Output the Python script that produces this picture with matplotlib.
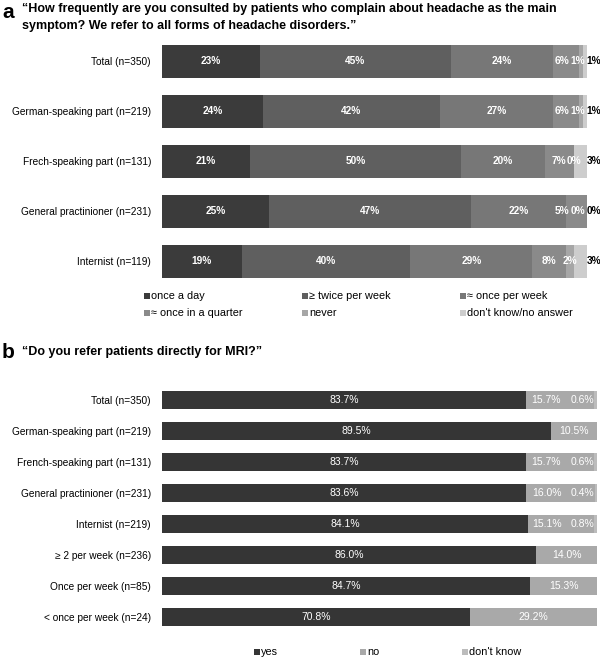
import numpy as np
import matplotlib
matplotlib.use('Agg')
import matplotlib.pyplot as plt

plt.rcParams['font.family'] = ['Liberation Sans', 'DejaVu Sans']

# Part a: how often consulted for headache (percent)
groups_a = ['Total (n=350)', 'German-speaking part (n=219)', 'Frech-speaking part (n=131)',
            'General practinioner (n=231)', 'Internist (n=119)']
series_a = ['once a day', '\u2265 twice per week', '\u2248 once per week',
            '\u2248 once in a quarter', 'never', "don't know/no answer"]
once_day = [23, 24, 21, 25, 19]
twice_week = [45, 42, 50, 47, 40]
once_week = [24, 27, 20, 22, 29]
once_quarter = [6, 6, 7, 5, 8]
never = [1, 1, 0, 0, 2]
dont_know_a = [1, 1, 3, 0, 3]
colors_a = ['#3b3b3b', '#5f5f5f', '#777777', '#8a8a8a', '#a6a6a6', '#cdcdcd']

# Part b: refer patients directly for MRI (percent)
groups_b = ['Total (n=350)', 'German-speaking part (n=219)', 'French-speaking part (n=131)',
            'General practinioner (n=231)', 'Internist (n=219)', '\u2265 2 per week (n=236)',
            'Once per week (n=85)', '< once per week (n=24)']
series_b = ['yes', 'no', "don't know"]
yes = [83.7, 89.5, 83.7, 83.6, 84.1, 86.0, 84.7, 70.8]
no = [15.7, 10.5, 15.7, 16.0, 15.1, 14.0, 15.3, 29.2]
dont_know_b = [0.6, 0.0, 0.6, 0.4, 0.8, 0.0, 0.0, 0.0]
colors_b = ['#353535', '#a9a9a9', '#bcbcbc']

W, H = 600, 659
fig = plt.figure(figsize=(W / 100, H / 100), dpi=100)


def px_axes(x0, y0, x1, y1):
    # axes placed by pixel box (top-left origin)
    return fig.add_axes([x0 / W, 1 - y1 / H, (x1 - x0) / W, (y1 - y0) / H])


# overlay for titles and legends, in pixel coords
ov = fig.add_axes([0, 0, 1, 1])
ov.set_xlim(0, W)
ov.set_ylim(H, 0)
ov.axis('off')

# ---- part a ----
ax = px_axes(162, 36, 587, 286)
data_a = np.array([once_day, twice_week, once_week, once_quarter, never, dont_know_a], float)
widths = data_a / data_a.sum(axis=0) * 100
ypos = np.arange(len(groups_a))
lefts = np.vstack([np.zeros(len(groups_a)), np.cumsum(widths, axis=0)[:-1]])
for i in range(len(series_a)):
    ax.barh(ypos, widths[i], left=lefts[i], height=0.66, color=colors_a[i], linewidth=0)

min_gap = 3.7
for j in range(len(groups_a)):
    # label centres, pushed left so the small end labels don't collide
    pos = list(lefts[:, j] + widths[:, j] / 2)
    pos[-1] = 101.6
    for i in range(len(pos) - 2, -1, -1):
        pos[i] = min(pos[i], pos[i + 1] - min_gap)
    for i in range(len(series_a)):
        last = i == len(series_a) - 1
        ax.text(pos[i], ypos[j], f'{data_a[i, j]:.0f}%', ha='center', va='center',
                fontsize=7.3, fontweight='bold', color='black' if last else 'white')
ax.set_xlim(0, 100)
ax.set_ylim(len(groups_a) - 0.5, -0.5)
ax.set_yticks(ypos)
ax.set_yticklabels(groups_a, fontsize=7.3)
ax.set_xticks([])
ax.tick_params(axis='y', length=0, pad=8)
for s in ax.spines.values():
    s.set_visible(False)

ov.text(2, 12, 'a', fontsize=15, fontweight='bold', va='center', ha='left')
ov.text(22, 3, '\u201cHow frequently are you consulted by patients who complain about headache as the main\n'
        'symptom? We refer to all forms of headache disorders.\u201d',
        fontsize=9.0, fontweight='bold', va='top', ha='left', linespacing=1.6)

leg_cols = [147, 305, 463]
leg_rows = [296, 313]
for k in range(len(series_a)):
    x = leg_cols[k % 3]
    y = leg_rows[k // 3]
    ov.scatter(x, y, marker='s', s=14, color=colors_a[k], linewidths=0)
    ov.text(x + 4, y, series_a[k], fontsize=7.8, va='center', ha='left')

# ---- part b ----
ov.text(2, 353, 'b', fontsize=15, fontweight='bold', va='center', ha='left')
ov.text(22, 352, '\u201cDo you refer patients directly for MRI?\u201d',
        fontsize=9.0, fontweight='bold', va='center', ha='left')

bx = px_axes(162, 384.5, 597, 632.5)
yb = np.arange(len(groups_b))
yes_a = np.array(yes)
no_a = np.array(no)
dk_a = np.array(dont_know_b)
bx.barh(yb, yes_a, height=0.55, color=colors_b[0], linewidth=0)
bx.barh(yb, no_a, left=yes_a, height=0.55, color=colors_b[1], linewidth=0)
bx.barh(yb, dk_a, left=yes_a + no_a, height=0.55, color=colors_b[2], linewidth=0)
for j in range(len(groups_b)):
    bx.text(yes_a[j] / 2, yb[j], f'{yes_a[j]:.1f}%', ha='center', va='center',
            fontsize=7.5, color='white')
    shift = 3.2 if dk_a[j] > 0 else 0
    bx.text(yes_a[j] + no_a[j] / 2 - shift, yb[j], f'{no_a[j]:.1f}%', ha='center',
            va='center', fontsize=7.5, color='white')
    if dk_a[j] > 0:
        bx.text(100 - 3.3, yb[j], f'{dk_a[j]:.1f}%', ha='center', va='center',
                fontsize=7.5, color='white')
bx.set_xlim(0, 100)
bx.set_ylim(len(groups_b) - 0.5, -0.5)
bx.set_yticks(yb)
bx.set_yticklabels(groups_b, fontsize=7.3)
bx.set_xticks([])
bx.tick_params(axis='y', length=0, pad=8)
for s in bx.spines.values():
    s.set_visible(False)

for x, lab, c in zip([257, 363, 465], series_b, colors_b):
    ov.scatter(x, 652, marker='s', s=14, color=c, linewidths=0)
    ov.text(x + 4, 652, lab, fontsize=7.8, va='center', ha='left')

fig.savefig('out.png', dpi=100)
